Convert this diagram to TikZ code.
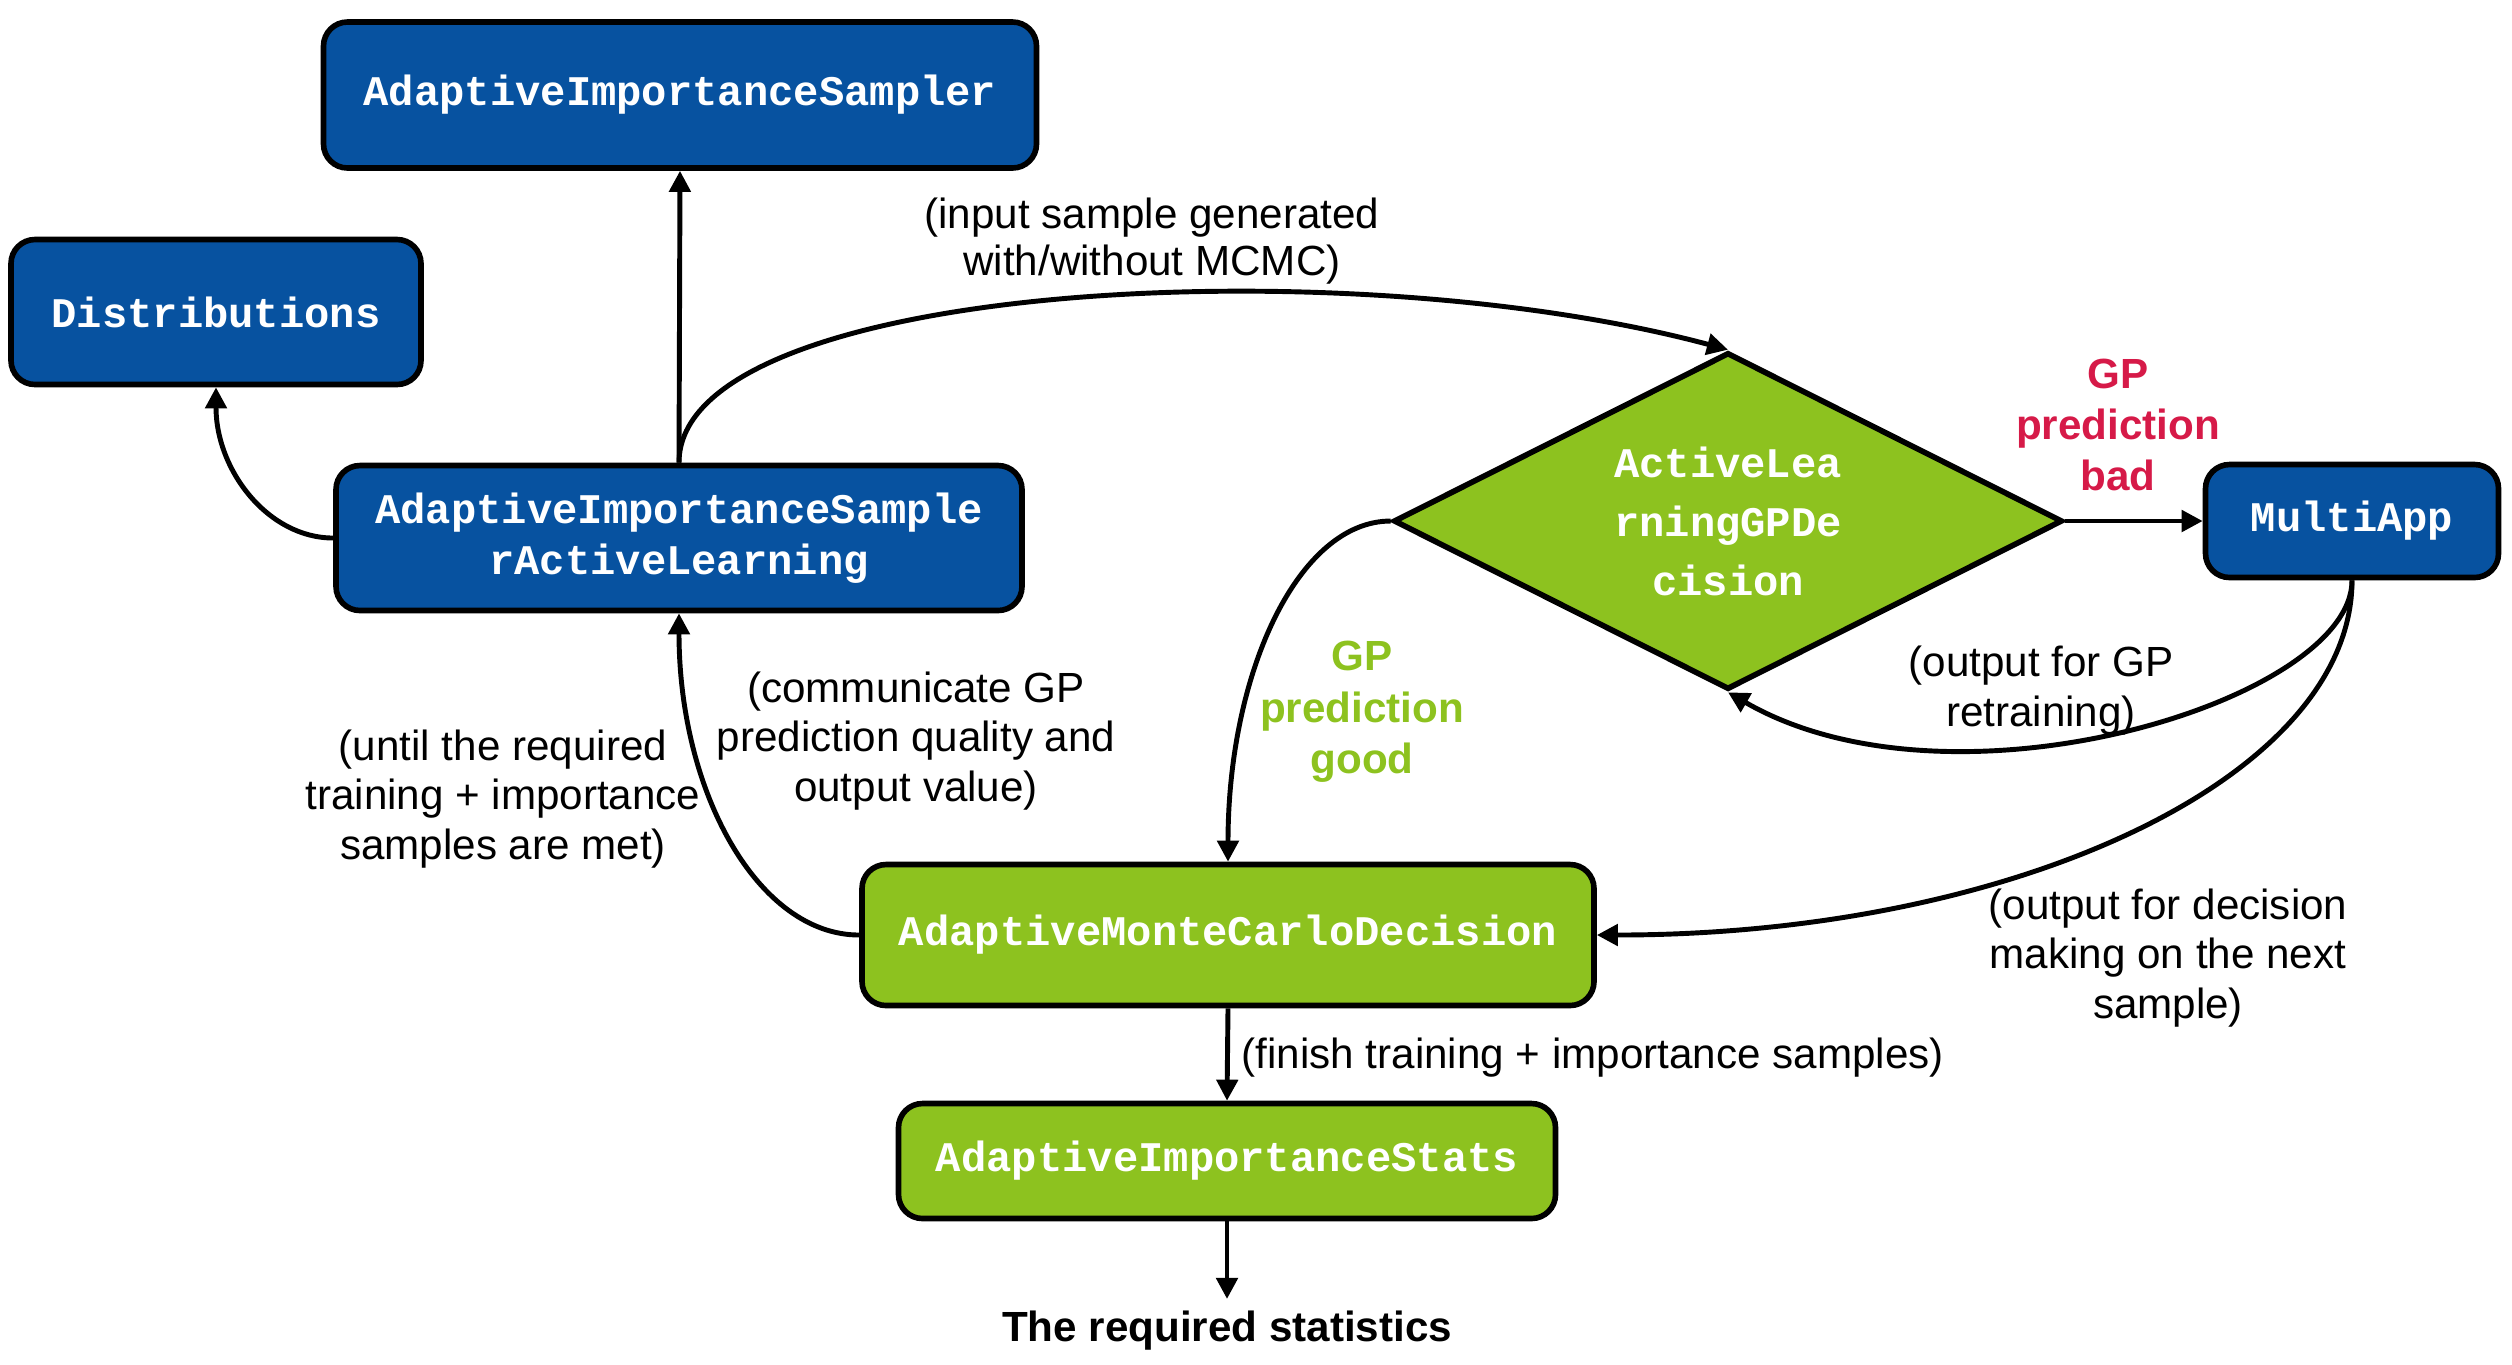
\documentclass[tikz,border=0pt]{standalone}
\usepackage{fontspec}
\setmainfont{Liberation Sans}
\setmonofont{Liberation Mono}
\usepackage{tikz}
\usetikzlibrary{arrows.meta,shapes.geometric}
\definecolor{aisblue}{RGB}{7,82,160}
\definecolor{aisgreen}{RGB}{141,194,31}
\definecolor{aisred}{RGB}{214,26,72}

\begin{document}
\begin{tikzpicture}[font=\fontsize{12}{14.2}\selectfont,
  blk/.style={draw=black,line width=1.6pt,rounded corners=0.24cm,text=white,align=center,inner sep=0pt,
    font=\fontsize{12}{14.5}\selectfont\ttfamily\bfseries},
  bluebox/.style={blk,fill=aisblue},
  greenbox/.style={blk,fill=aisgreen},
  flow/.style={-{Triangle[length=6pt,width=6pt]},line width=1.4pt},
  lbl/.style={align=center,inner sep=0pt}]
\useasboundingbox (0,0) rectangle (25.12,-13.64);
\node[bluebox,minimum width=7.13cm,minimum height=1.46cm] (ais) at (6.80,-0.95) {AdaptiveImportanceSampler};
\node[bluebox,minimum width=4.10cm,minimum height=1.45cm] (dist) at (2.16,-3.12) {Distributions};
\node[bluebox,minimum width=6.86cm,minimum height=1.45cm] (aisal) at (6.79,-5.38) {AdaptiveImportanceSample\\rActiveLearning};
\node[diamond,draw=black,fill=aisgreen,line width=1.6pt,aspect=2,inner sep=0pt,minimum width=6.69cm,minimum height=3.37cm,
  text=white,align=center,font=\fontsize{12}{16.8}\selectfont\ttfamily\bfseries] (dia) at (17.28,-5.21) {ActiveLea\\rningGPDe\\cision};
\node[bluebox,minimum width=2.93cm,minimum height=1.13cm] (multi) at (23.52,-5.21) {MultiApp};
\node[greenbox,minimum width=7.32cm,minimum height=1.41cm] (amcd) at (12.28,-9.35) {AdaptiveMonteCarloDecision};
\node[greenbox,minimum width=6.57cm,minimum height=1.15cm] (stats) at (12.27,-11.61) {AdaptiveImportanceStats};
\node[font=\fontsize{12}{14.2}\selectfont\bfseries] (req) at (12.27,-13.31) {The required statistics};

\node[lbl,font=\fontsize{12}{13.2}\selectfont] (lblinput) at (11.52,-2.41) {(input sample generated\\with/without MCMC)};
\node[lbl,text=aisred,font=\fontsize{12}{14.4}\selectfont\bfseries] (lblbad) at (21.18,-4.25) {GP\\prediction\\bad};
\node[lbl,text=aisgreen,font=\fontsize{12}{14.6}\selectfont\bfseries] (lblgood) at (13.62,-7.12) {GP\\prediction\\good};
\node[lbl] (lblretrain) at (20.41,-6.91) {(output for GP\\retraining)};
\node[lbl] (lblcomm) at (9.16,-7.41) {(communicate GP\\prediction quality and\\output value)};
\node[lbl] (lbluntil) at (5.03,-7.99) {(until the required\\training + importance\\samples are met)};
\node[lbl] (lbldecision) at (21.68,-9.58) {(output for decision\\making on the next\\sample)};
\node[lbl,anchor=west] (lblfinish) at (12.41,-10.58) {(finish training + importance samples)};

\draw[flow] (aisal.north) -- (ais.south);
\draw[flow] (aisal.west) to[out=180,in=-90,out distance=0.65cm,in distance=0.83cm] (dist.south);
\draw[flow] (aisal.north) to[out=90,in=165,out distance=1.8cm,in distance=4cm] (dia.north);
\draw[flow] (dia.east) -- (multi.west);
\draw[flow] (multi.south) to[out=-90,in=-30,out distance=1.2cm,in distance=2.6cm] (dia.south);
\draw[flow] (multi.south) to[out=-90,in=0,out distance=1.97cm,in distance=4.18cm] (amcd.east);
\draw[flow] (dia.west) to[out=180,in=90,out distance=0.92cm,in distance=1.9cm] (amcd.north);
\draw[flow] (amcd.west) to[out=180,in=-90,out distance=1.01cm,in distance=1.79cm] (aisal.south);
\draw[flow] (amcd.south) -- (stats.north);
\draw[flow] (stats.south) -- (req.north);
\end{tikzpicture}
\end{document}
